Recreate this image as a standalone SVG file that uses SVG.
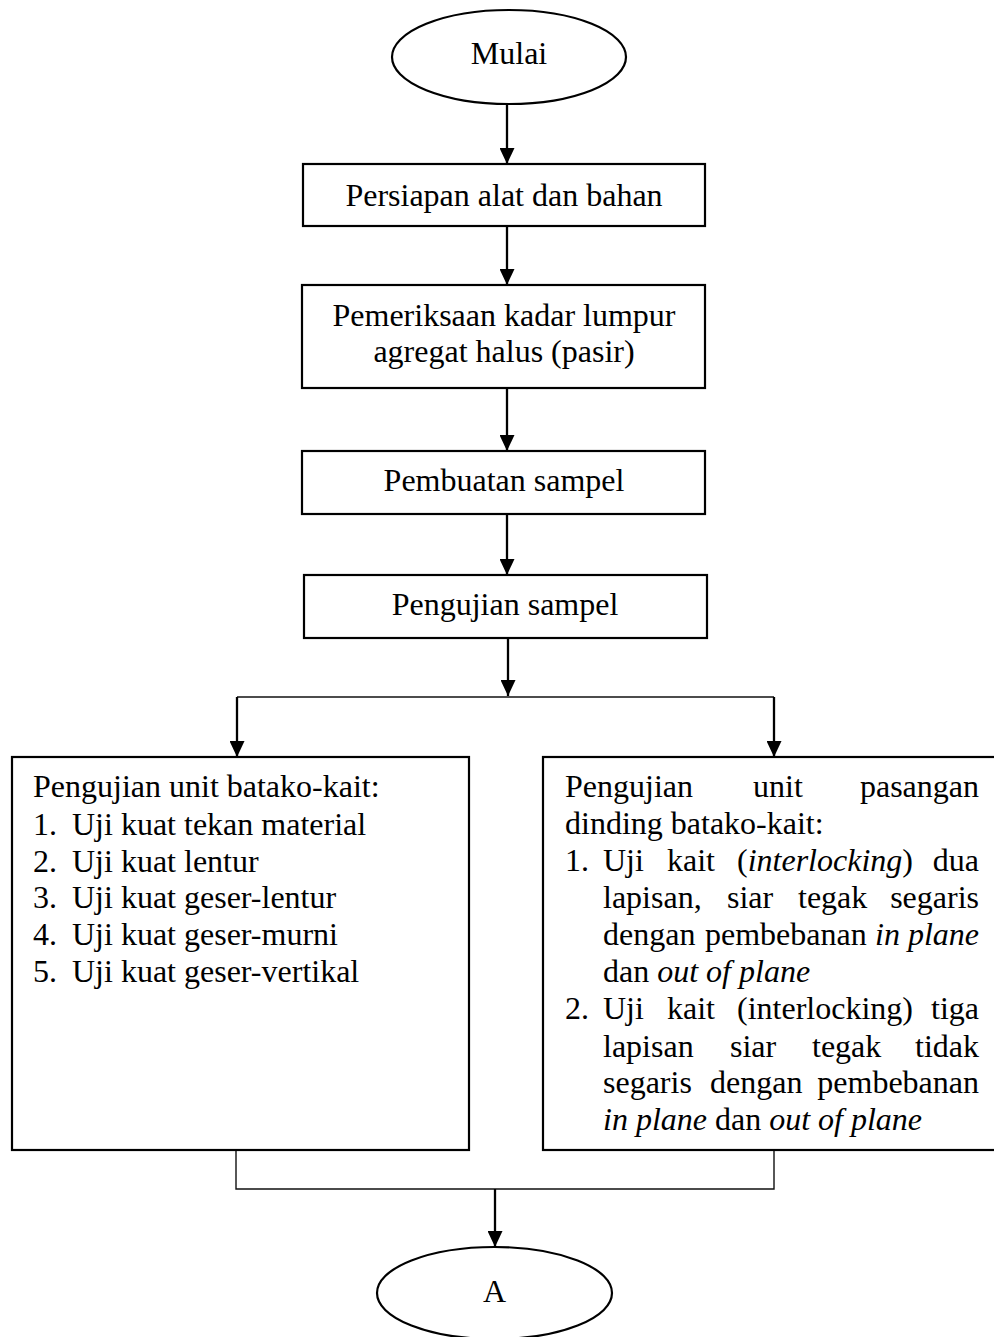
<svg xmlns="http://www.w3.org/2000/svg" width="994" height="1337" viewBox="0 0 994 1337">
<style>
  .box { fill: #ffffff; stroke: #000000; stroke-width: 2.2; }
  .t { font-family: "Liberation Serif", "Times New Roman", serif; font-size: 32px; fill: #000000; }
  .c { text-anchor: middle; }
  .arrow { stroke: #000000; stroke-width: 2.3; fill: none; marker-end: url(#ah); }
  .thin { stroke: #111111; stroke-width: 1.4; fill: none; }
  .e { text-anchor: end; }
  .i { font-style: italic; }
</style>
<defs>
  <marker id="ah" markerUnits="userSpaceOnUse" viewBox="0 0 16 15" refX="16" refY="7.5" markerWidth="16" markerHeight="15" orient="auto">
    <path d="M0,0 L16,7.5 L0,15 Z" fill="#000000"/>
  </marker>
</defs>
<rect width="994" height="1337" fill="#ffffff"/>

<g id="connectors">
  <line class="arrow" x1="507" y1="104" x2="507" y2="164"/>
  <line class="arrow" x1="507" y1="226" x2="507" y2="285"/>
  <line class="arrow" x1="507" y1="388" x2="507" y2="451"/>
  <line class="arrow" x1="507" y1="514" x2="507" y2="575"/>
  <line class="arrow" x1="508" y1="638" x2="508" y2="696"/>
  <line class="thin" x1="237" y1="697" x2="774" y2="697"/>
  <line class="arrow" x1="237" y1="697" x2="237" y2="757"/>
  <line class="arrow" x1="774" y1="697" x2="774" y2="757"/>
  <path class="thin" d="M236 1150 V1189 H774 V1150"/>
  <line class="arrow" x1="495" y1="1189" x2="495" y2="1247"/>
</g>

<g id="mulai">
  <ellipse class="box" cx="509" cy="57" rx="117" ry="47"/>
  <text class="t c" x="509" y="64">Mulai</text>
</g>

<g id="persiapan">
  <rect class="box" x="303" y="164" width="402" height="62"/>
  <text class="t c" x="504" y="206">Persiapan alat dan bahan</text>
</g>

<g id="pemeriksaan">
  <rect class="box" x="302" y="285" width="403" height="103"/>
  <text class="t c" x="504" y="326">Pemeriksaan kadar lumpur</text>
  <text class="t c" x="504" y="362">agregat halus (pasir)</text>
</g>

<g id="pembuatan">
  <rect class="box" x="302" y="451" width="403" height="63"/>
  <text class="t c" x="504" y="491">Pembuatan sampel</text>
</g>

<g id="pengujian">
  <rect class="box" x="304" y="575" width="403" height="63"/>
  <text class="t c" x="505" y="615">Pengujian sampel</text>
</g>

<g id="unit-batako">
  <rect class="box" x="12" y="757" width="457" height="393"/>
  <text class="t" x="33" y="797">Pengujian unit batako-kait:</text>
  <text class="t" y="835"><tspan x="33">1.</tspan><tspan x="72">Uji kuat tekan material</tspan></text>
  <text class="t" y="872"><tspan x="33">2.</tspan><tspan x="72">Uji kuat lentur</tspan></text>
  <text class="t" y="908"><tspan x="33">3.</tspan><tspan x="72">Uji kuat geser-lentur</tspan></text>
  <text class="t" y="945"><tspan x="33">4.</tspan><tspan x="72">Uji kuat geser-murni</tspan></text>
  <text class="t" y="982"><tspan x="33">5.</tspan><tspan x="72">Uji kuat geser-vertikal</tspan></text>
</g>

<g id="unit-pasangan">
  <rect class="box" x="543" y="757" width="470" height="393"/>
  <text class="t" y="797"><tspan x="565">Pengujian</tspan><tspan x="753">unit</tspan><tspan class="e" x="979">pasangan</tspan></text>
  <text class="t" x="565" y="834">dinding batako-kait:</text>
  <text class="t" y="871"><tspan x="565">1.</tspan><tspan x="603">Uji</tspan><tspan x="667">kait</tspan><tspan x="737">(<tspan class="i">interlocking</tspan>)</tspan><tspan class="e" x="979">dua</tspan></text>
  <text class="t" y="908"><tspan x="603">lapisan,</tspan><tspan x="727">siar</tspan><tspan x="798">tegak</tspan><tspan class="e" x="979">segaris</tspan></text>
  <text class="t" y="945"><tspan x="603">dengan</tspan><tspan x="705">pembebanan</tspan><tspan class="e i" x="979">in plane</tspan></text>
  <text class="t" x="603" y="982">dan <tspan class="i">out of plane</tspan></text>
  <text class="t" y="1019"><tspan x="565">2.</tspan><tspan x="603">Uji</tspan><tspan x="667">kait</tspan><tspan x="737">(interlocking)</tspan><tspan class="e" x="979">tiga</tspan></text>
  <text class="t" y="1057"><tspan x="603">lapisan</tspan><tspan x="730">siar</tspan><tspan x="812">tegak</tspan><tspan class="e" x="979">tidak</tspan></text>
  <text class="t" y="1093"><tspan x="603">segaris</tspan><tspan x="710">dengan</tspan><tspan class="e" x="979">pembebanan</tspan></text>
  <text class="t" x="603" y="1130"><tspan class="i">in plane</tspan> dan <tspan class="i">out of plane</tspan></text>
</g>

<g id="a-connector">
  <ellipse class="box" cx="494.5" cy="1293" rx="117.5" ry="46"/>
  <text class="t c" x="494.5" y="1302">A</text>
</g>
</svg>
